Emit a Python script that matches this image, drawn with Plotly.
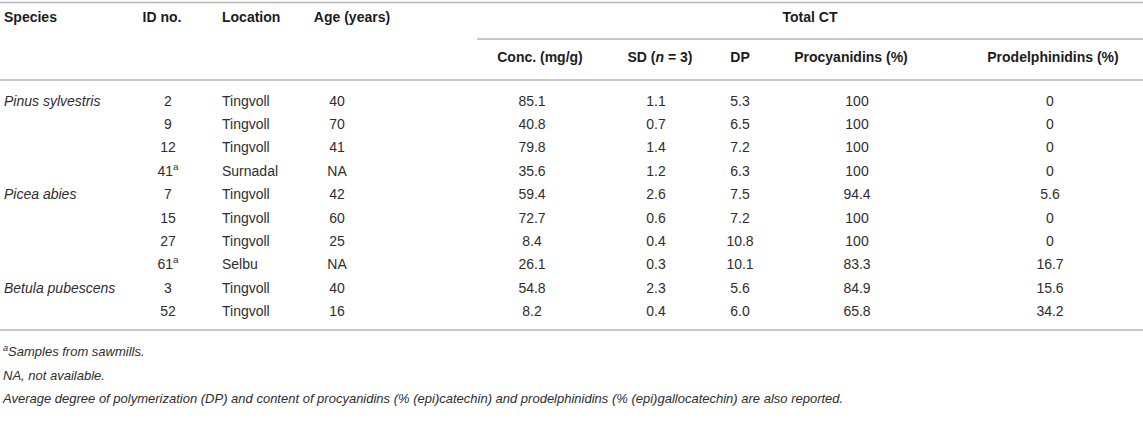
import plotly.graph_objects as go

# table content
species = ["Pinus sylvestris", "", "", "", "Picea abies", "", "", "", "Betula pubescens", ""]
id_no = ["2", "9", "12", "41<sup>a</sup>", "7", "15", "27", "61<sup>a</sup>", "3", "52"]
location = ["Tingvoll", "Tingvoll", "Tingvoll", "Surnadal", "Tingvoll",
            "Tingvoll", "Tingvoll", "Selbu", "Tingvoll", "Tingvoll"]
age = ["40", "70", "41", "NA", "42", "60", "25", "NA", "40", "16"]
conc = [85.1, 40.8, 79.8, 35.6, 59.4, 72.7, 8.4, 26.1, 54.8, 8.2]
sd = [1.1, 0.7, 1.4, 1.2, 2.6, 0.6, 0.4, 0.3, 2.3, 0.4]
dp = [5.3, 6.5, 7.2, 6.3, 7.5, 7.2, 10.8, 10.1, 5.6, 6.0]
procyanidins = [100, 100, 100, 100, 94.4, 100, 100, 83.3, 84.9, 65.8]
prodelphinidins = [0, 0, 0, 0, 5.6, 0, 0, 16.7, 15.6, 34.2]

header_top = ["Species", "ID no.", "Location", "Age (years)", "Total CT"]
header_sub = ["Conc. (mg/g)", "SD (<i>n</i> = 3)", "DP", "Procyanidins (%)", "Prodelphinidins (%)"]
footnotes = [
    "<sup>a</sup>Samples from sawmills.",
    "NA, not available.",
    "Average degree of polymerization (DP) and content of procyanidins (% (epi)catechin) "
    "and prodelphinidins (% (epi)gallocatechin) are also reported.",
]

# layout constants (pixels)
W, H = 1143, 431
FONT = "Liberation Sans, Arial, Helvetica, sans-serif"
ROW0, ROW_H = 102, 23.4
HDR1_Y, HDR2_Y = 18, 58
FOOT_Y0, FOOT_H = 353, 23.5
LINE_COLOR = "#b4b4b4"
TXT = "#2e2e2e"
HDR_TXT = "#1c1c1c"
L, C = "middle right", "middle center"

rows = list(range(len(id_no)))
row_y = [ROW0 + ROW_H * r for r in rows]

fig = go.Figure()


def add_col(texts, x, pos, y, size=14, color=TXT):
    fig.add_trace(go.Scatter(
        x=[x] * len(texts), y=y, text=texts, mode="text",
        textposition=pos, hoverinfo="skip",
        textfont=dict(family=FONT, size=size, color=color),
    ))


# body (species name only on the first row of each group)
sp_rows = [r for r in rows if species[r]]
add_col([f"<i>{species[r]}</i>" for r in sp_rows], 4, L, [row_y[r] for r in sp_rows])
add_col(id_no, 168, C, row_y)
add_col(location, 222, L, row_y)
add_col(age, 337, C, row_y)
add_col([f"{v:.1f}" for v in conc], 532, C, row_y)
add_col([f"{v:.1f}" for v in sd], 656, C, row_y)
add_col([f"{v:.1f}" for v in dp], 740, C, row_y)
add_col([f"{v:g}" for v in procyanidins], 857, C, row_y)
add_col([f"{v:g}" for v in prodelphinidins], 1050, C, row_y)

# header row 1
for txt, x, pos in zip(header_top, [4, 162, 222, 352, 810], [L, C, L, C, C]):
    add_col([f"<b>{txt}</b>"], x, pos, [HDR1_Y], color=HDR_TXT)

# header row 2
for txt, x in zip(header_sub, [540, 660, 740, 851, 1053]):
    add_col([f"<b>{txt}</b>"], x, C, [HDR2_Y], color=HDR_TXT)

# footnotes
add_col([f"<i>{t}</i>" for t in footnotes], 3, L,
        [FOOT_Y0 + FOOT_H * i for i in range(len(footnotes))], size=13)

# rules
rules = [(0, W, 2.5), (477, W, 39), (0, W, 80), (0, W, 330)]
for x0, x1, y in rules:
    fig.add_shape(type="line", x0=x0, x1=x1, y0=y, y1=y, xref="x", yref="y",
                  line=dict(color=LINE_COLOR, width=1.5))

fig.update_layout(
    width=W, height=H,
    margin=dict(l=0, r=0, t=0, b=0),
    paper_bgcolor="white", plot_bgcolor="white",
    showlegend=False,
    xaxis=dict(range=[0, W], visible=False, fixedrange=True),
    yaxis=dict(range=[H, 0], visible=False, fixedrange=True),
)

fig.write_html("out.html", config={"displayModeBar": False},
               post_script="document.body.style.margin='0';")
